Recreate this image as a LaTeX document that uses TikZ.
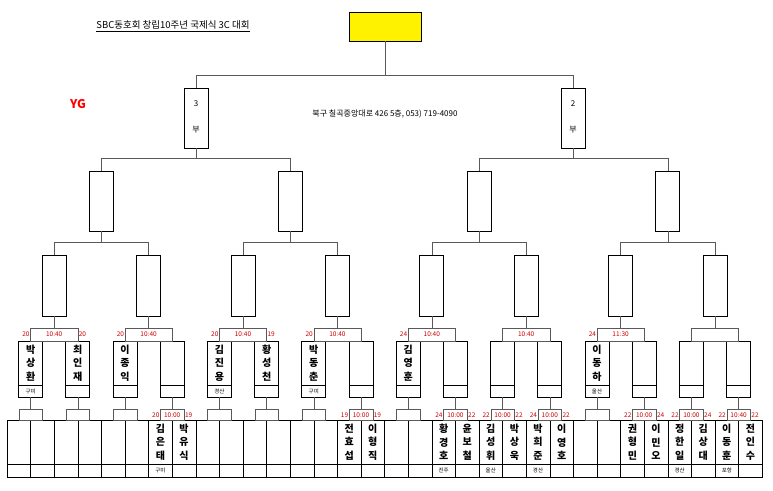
\documentclass[tikz,border=0pt]{standalone}
\usepackage{fontspec}
\setmainfont{Noto Sans CJK KR}
\usetikzlibrary{positioning,calc}
\definecolor{numred}{RGB}{204,0,0}
\begin{document}
\begin{tikzpicture}[x=1pt,y=-1pt]

\tikzstyle{every node}=[inner sep=0pt, outer sep=0pt]
\tikzstyle{tall} = [rectangle, draw, line width=1pt, minimum width=24pt]
\tikzstyle{bracket} = [draw, gray!70!black, line width=0.6pt]
\tikzstyle{num} = [text=numred, font=\fontsize{6.5}{7}\selectfont]
\tikzstyle{who} = [align=center, font=\fontsize{10}{13.5}\selectfont\bfseries]
\tikzstyle{town} = [font=\fontsize{5.5}{6}\selectfont]

\useasboundingbox (0,0) rectangle (773,490);

% top title and info
\node[font=\fontsize{9.5}{10}\selectfont] (title) at (173,25) {SBC동호회 창립10주년 국제식 3C 대회};
\draw ([yshift=-1.5pt]title.south west) -- ([yshift=-1.5pt]title.south east);
\node[text=red, font=\fontsize{12}{12}\selectfont\bfseries] (yg) at (78,104) {YG};
\node[font=\fontsize{8}{9}\selectfont] (addr) at (385,114) {북구 칠곡중앙대로 426 5층, 053) 719-4090};
\node[rectangle, draw, fill=yellow, minimum width=72pt, minimum height=29pt] (final) at (385,26.5) {};

% bottom row of 32 cells
\foreach \i in {1,...,32} {
    \node[rectangle, draw, minimum width=23.6pt, minimum height=57pt] at (7+23.6*\i-11.8,448.5) (cell\i) {};
}
\draw (cell1.west |- 0,464) -- (cell32.east |- 0,464);

% round two boxes
\foreach \k in {1,...,16} {
    \node[tall, minimum height=56pt] at (7+23.6*2*\k-23.6,369) (rtwo\k) {};
    \draw (rtwo\k.west |- 0,385) -- (rtwo\k.east |- 0,385);
    \path (cell\the\numexpr2*\k-1\relax.center) -- (cell\the\numexpr2*\k\relax.center) coordinate[midway] (mid);
    \draw[bracket] (cell\the\numexpr2*\k-1\relax.center |- 0,409) rectangle (cell\the\numexpr2*\k\relax.center |- 0,420);
    \draw[bracket] (rtwo\k.south) -- (rtwo\k.south |- 0,409);
}

% round three, four, five
\foreach \j in {1,...,8} {
    \node[tall, minimum height=61pt] at (7+23.6*4*\j-47.2,285.5) (rthree\j) {};
    \pgfmathtruncatemacro\a{2*\j-1}
    \pgfmathtruncatemacro\b{2*\j}
    \draw[bracket] (rtwo\a.north |- 0,328) rectangle (rtwo\b.north |- 0,341);
    \draw[bracket] (rthree\j.south) -- (rthree\j.south |- 0,328);
}
\foreach \m in {1,...,4} {
    \node[tall, minimum height=60pt] at (7+23.6*8*\m-94.4,201) (rfour\m) {};
    \pgfmathtruncatemacro\a{2*\m-1}
    \pgfmathtruncatemacro\b{2*\m}
    \draw[bracket] (rthree\a.north) -- (rthree\a.north |- 0,242) -- (rthree\b.north |- 0,242) -- (rthree\b.north);
    \draw[bracket] (rfour\m.south) -- (rfour\m.south |- 0,242);
}
\node[tall, minimum height=60pt] at (196,118) (division1) {};
\node[tall, minimum height=60pt] at (573,118) (division2) {};
\node[font=\fontsize{8}{9}\selectfont] at (196,104) {3};
\node[font=\fontsize{8}{9}\selectfont] at (196,130) {부};
\node[font=\fontsize{8}{9}\selectfont] at (573,104) {2};
\node[font=\fontsize{8}{9}\selectfont] at (573,130) {부};
\foreach \n/\a/\b in {1/1/2, 2/3/4} {
    \draw[bracket] (rfour\a.north) -- (rfour\a.north |- 0,158) -- (rfour\b.north |- 0,158) -- (rfour\b.north);
    \draw[bracket] (division\n.south) -- (division\n.south |- 0,158);
}
\draw[bracket] (division1.north) -- (division1.north |- 0,75) -- (division2.north |- 0,75) -- (division2.north);
\draw[bracket] (final.south) -- (final.south |- 0,75);

% players in the bottom row
\foreach \i/\nm/\rg in {7/{김\\은\\태}/구미, 8/{박\\유\\식}/, 15/{전\\효\\섭}/, 16/{이\\형\\직}/,
    19/{황\\경\\호}/진주, 20/{윤\\보\\철}/, 21/{김\\성\\휘}/울산, 22/{박\\상\\욱}/,
    23/{박\\희\\준}/경산, 24/{이\\영\\호}/, 27/{권\\형\\민}/, 28/{이\\민\\오}/,
    29/{정\\한\\일}/경산, 30/{김\\상\\대}/, 31/{이\\동\\훈}/포항, 32/{전\\인\\수}/} {
    \node[who] at (cell\i.center |- 0,442) {\nm};
    \node[town] at (cell\i.center |- 0,470.5) {\rg};
}

% players in round two
\foreach \k/\nm/\rg in {1/{박\\상\\환}/구미, 2/{최\\인\\재}/, 3/{이\\종\\익}/, 5/{김\\진\\용}/경산,
    6/{황\\성\\천}/, 7/{박\\동\\춘}/구미, 9/{김\\영\\훈}/, 13/{이\\동\\하}/울산} {
    \node[who] at (rtwo\k.center |- 0,363) {\nm};
    \node[town] at (rtwo\k.center |- 0,391) {\rg};
}

% scores and times, bottom brackets
\foreach \k/\l/\t/\r in {4/20/10:00/19, 8/19/10:00/19, 10/24/10:00/22, 11/22/10:00/22,
    12/24/10:00/22, 14/22/10:00/24, 15/22/10:00/24, 16/22/10:40/22} {
    \pgfmathtruncatemacro\a{2*\k-1}
    \pgfmathtruncatemacro\b{2*\k}
    \node[num, anchor=east] at ([xshift=-1pt]cell\a.center |- 0,415) {\l};
    \node[num] at (rtwo\k.center |- 0,415) {\t};
    \node[num, anchor=west] at ([xshift=1pt]cell\b.center |- 0,415) {\r};
}

% scores and times, round two brackets
\foreach \j/\l/\t/\r in {1/20/10:40/20, 2/20/10:40/, 3/20/10:40/19, 4/20/10:40/,
    5/24/10:40/, 6//10:40/, 7/24/11:30/} {
    \pgfmathtruncatemacro\a{2*\j-1}
    \pgfmathtruncatemacro\b{2*\j}
    \node[num, anchor=east] at ([xshift=-1pt]rtwo\a.center |- 0,334.5) {\l};
    \node[num] at (rthree\j.center |- 0,334.5) {\t};
    \node[num, anchor=west] at ([xshift=1pt]rtwo\b.center |- 0,334.5) {\r};
}

\end{tikzpicture}
\end{document}
